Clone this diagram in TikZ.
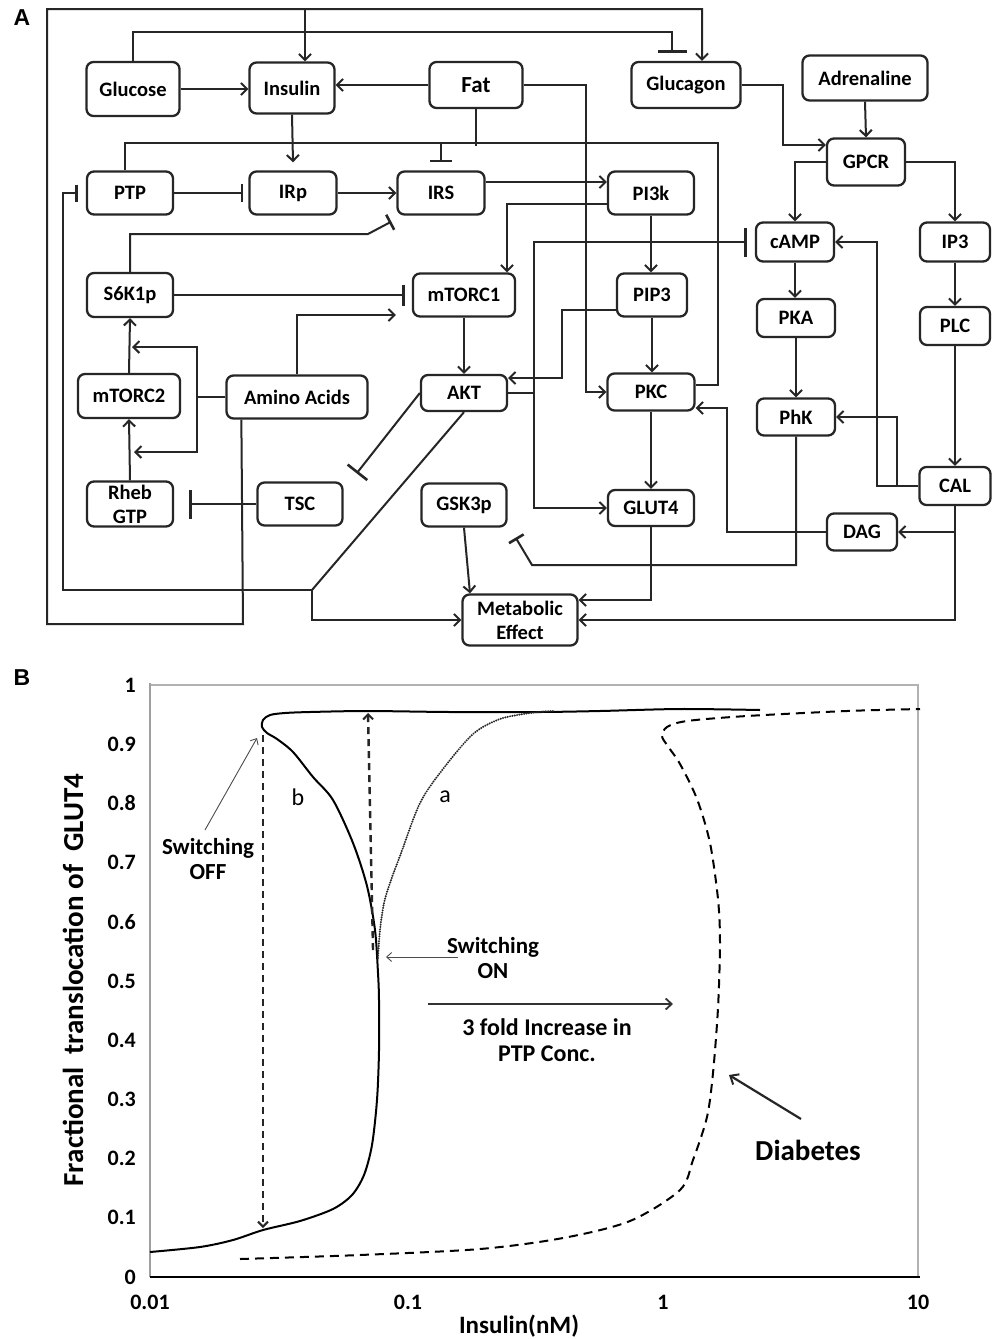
\documentclass[tikz,border=0pt]{standalone}
\usepackage{fontspec}
\setmainfont{Carlito}
\newfontfamily\lsans{Liberation Sans}
\usetikzlibrary{arrows.meta,calc}
\tikzset{
  box/.style={draw=black!85, line width=2.3pt, rounded corners=7pt, inner sep=0pt, align=center, font=\fontsize{20.5}{24}\selectfont\bfseries},
  ln/.style={line width=2pt, draw=black!85},
  arr/.style={ln, -{Straight Barb[length=6pt,width=12pt,line width=2pt]}},
  inh/.style={ln, -{Bar[width=#1,line width=2.6pt]}},
  inh/.default=22pt,
  ticklab/.style={font=\fontsize{22}{24}\selectfont\bfseries, inner sep=1pt},
  annot/.style={font=\fontsize{23}{25}\selectfont\bfseries, align=center, inner sep=0pt},
  thinarr/.style={line width=0.9pt, draw=black!70, -{Straight Barb[length=5pt,width=9pt,line width=0.9pt]}},
  dasharr/.style={line width=2.4pt, draw=black!85, dash pattern=on 7pt off 5pt, -{Straight Barb[length=5pt,width=10pt,line width=2pt]}},
  panel/.style={font=\lsans\fontsize{23}{26}\selectfont\bfseries}
}
\begin{document}
\begin{tikzpicture}[x=1pt,y=-1pt]
\fill[white] (0,0) rectangle (993,1339);
\useasboundingbox (0,0) rectangle (993,1339);

% ---------------- Panel A ----------------
\node[panel] (labA) at (22,18) {A};

\node[box, minimum width=93pt, minimum height=54pt] (glucose) at (133,89) {Glucose};
\node[box, minimum width=85pt, minimum height=51pt] (insulin) at (292,88) {Insulin};
\node[box, minimum width=93pt, minimum height=46pt, font=\fontsize{23}{26}\selectfont\bfseries] (fat) at (476,85) {Fat};
\node[box, minimum width=109pt, minimum height=46pt] (glucagon) at (686,85) {Glucagon};
\node[box, minimum width=125pt, minimum height=45pt] (adrenaline) at (865,78) {Adrenaline};
\node[box, minimum width=78pt, minimum height=47pt] (gpcr) at (866,162) {GPCR};
\node[box, minimum width=86pt, minimum height=43pt] (ptp) at (130,193) {PTP};
\node[box, minimum width=87pt, minimum height=43pt] (irp) at (293,193) {IRp};
\node[box, minimum width=87pt, minimum height=43pt] (irs) at (441,193) {IRS};
\node[box, minimum width=86pt, minimum height=43pt] (pi3k) at (651,193) {PI3k};
\node[box, minimum width=78pt, minimum height=39pt] (camp) at (795,242) {cAMP};
\node[box, minimum width=70pt, minimum height=39pt] (ip3) at (955,242) {IP3};
\node[box, minimum width=86pt, minimum height=44pt] (s6k1p) at (130,295) {S6K1p};
\node[box, minimum width=102pt, minimum height=43pt] (mtorc1) at (464,295) {mTORC1};
\node[box, minimum width=70pt, minimum height=43pt] (pip3) at (652,295) {PIP3};
\node[box, minimum width=78pt, minimum height=38pt] (pka) at (796,318) {PKA};
\node[box, minimum width=70pt, minimum height=38pt] (plc) at (955,326) {PLC};
\node[box, minimum width=102pt, minimum height=44pt] (mtorc2) at (129,396) {mTORC2};
\node[box, minimum width=141pt, minimum height=43pt] (amino) at (297,397) {Amino Acids};
\node[box, minimum width=86pt, minimum height=36pt] (akt) at (464,393) {AKT};
\node[box, minimum width=87pt, minimum height=37pt] (pkc) at (651,392) {PKC};
\node[box, minimum width=78pt, minimum height=37pt] (phk) at (796,417) {PhK};
\node[box, minimum width=71pt, minimum height=38pt] (cal) at (955,486) {CAL};
\node[box, minimum width=86pt, minimum height=45pt] (rheb) at (130,504) {Rheb\\GTP};
\node[box, minimum width=85pt, minimum height=43pt] (tsc) at (300,504) {TSC};
\node[box, minimum width=85pt, minimum height=43pt] (gsk3p) at (464,505) {GSK3p};
\node[box, minimum width=86pt, minimum height=36pt] (glut4) at (651,508) {GLUT4};
\node[box, minimum width=70pt, minimum height=37pt] (dag) at (862,532) {DAG};
\node[box, minimum width=115pt, minimum height=51pt] (metab) at (520,620) {Metabolic\\Effect};

% junction coordinates
\coordinate (topjoin) at (305,9);
\coordinate (bj) at (441,143);
\coordinate (aktj) at (534,393);
\coordinate (aktd) at (312,590);
\coordinate (calj) at (955,532);
\coordinate (calk) at (897,486);
\coordinate (aaj) at (197,397);
\coordinate (aaS) at (132,347);
\coordinate (aaR) at (134,452);

% Amino acids -> Insulin / Glucagon (outer loop)
\draw[arr] ([xshift=16pt]amino.south west) -- (243,624) -- (47,624) -- (47,9) -| ([xshift=16pt]glucagon.north);
\draw[arr] (topjoin) -- ([xshift=13pt]insulin.north);
% Glucose -| Glucagon
\draw[inh=29pt] (glucose.north) -- (133,32) -| ([xshift=-14pt,yshift=8pt]glucagon.north);
% Glucose -> Insulin, Fat -> Insulin
\draw[arr] (glucose.east) -- (glucose.east -| insulin.west);
\draw[arr] (fat.west) -- (fat.west -| insulin.east);
% Insulin -> IRp
\draw[arr] (insulin.south) -- ([yshift=8pt]irp.north);
% PKC line to PTP, and inhibition of IRS
\draw[ln] ([yshift=7pt]pkc.east) -- (718,385) -- (718,143) -| ([xshift=-5pt]ptp.north);
\draw[inh] (bj) -- ([yshift=8pt]irs.north);
\draw[ln] (fat.south) -- (476,146);
% PTP -| IRp, IRp -> IRS, IRS -> PI3k
\draw[inh=18pt] (ptp.east) -- ([xshift=-5pt]irp.west);
\draw[arr] (irp.east) -- (irs.west);
\draw[arr] ([yshift=11pt]irs.east) -- ([yshift=11pt]pi3k.west);
% PI3k -> mTORC1, PI3k -> PIP3
\draw[arr] ([yshift=-11pt]pi3k.west) -| ([xshift=43pt]mtorc1.north);
\draw[arr] (pi3k.south) -- (pi3k.south |- pip3.north);
% AKT -| cAMP, AKT -> GLUT4
\draw[inh=29pt] (akt.east) -- (aktj) |- ([xshift=-8pt]camp.west);
\draw[arr] (aktj) |- (glut4.west);
% PIP3 -> AKT
\draw[arr] ([yshift=-15pt]pip3.west) -- (562,310) |- ([yshift=15pt]akt.east);
% mTORC1 -> AKT
\draw[arr] (mtorc1.south) -- (akt.north);
% Fat -> PKC
\draw[arr] (fat.east) -- (586,85) |- (pkc.west);
% PIP3 -> PKC, PKC -> GLUT4
\draw[arr] (pip3.south) -- (pip3.south |- pkc.north);
\draw[arr] (pkc.south) -- (glut4.north);
% DAG -> PKC
\draw[arr] (dag.west) -- (727,532) |- ([yshift=-16pt]pkc.east);
% CAL -> DAG, CAL -> Metabolic
\draw[arr] (cal.south) -- (955,620) -- (metab.east);
\draw[arr] (calj) -- (dag.east);
% CAL -> cAMP, CAL -> PhK
\draw[arr] (cal.west) -- (877,486) |- (camp.east);
\draw[arr] (calk) |- (phk.east);
% PhK -| GSK3p
\draw[inh=17pt] (phk.south) |- (532,565) -- ([xshift=8pt,yshift=-10pt]gsk3p.south east);
% GLUT4 -> Metabolic, GSK3p -> Metabolic
\draw[arr] (glut4.south) |- ([yshift=20pt]metab.east);
\draw[arr] (gsk3p.south) -- ([xshift=-50pt]metab.north);
% AKT -| TSC
\draw[inh=25pt] (akt.west) -- ([xshift=13pt,yshift=8pt]tsc.north east);
% AKT diagonal -> PTP (inh) and Metabolic
\draw[ln] (akt.south) -- (aktd);
\draw[inh=17pt] (aktd) -- (63,590) -- (63,193) -- ([xshift=-8pt]ptp.west);
\draw[arr] (aktd) -- (312,620) -- (metab.west);
% S6K1p -| mTORC1, S6K1p -| IRS
\draw[inh=21pt] (s6k1p.east) -- ([xshift=-7pt]mtorc1.west);
\draw[inh=17pt] (s6k1p.north) |- (368,234) -- ([xshift=-5pt,yshift=-6pt]irs.south west);
% Amino acids -> mTORC1
\draw[arr] (amino.north) |- ([xshift=-16pt,yshift=-20pt]mtorc1.west);
% mTORC2 -> S6K1p, Rheb -> mTORC2
\draw[arr] (mtorc2.north) -- (s6k1p.south);
\draw[arr] (rheb.north) -- (mtorc2.south);
% Amino acids -> side arrows
\draw[arr] (amino.west) -- (aaj) |- (aaS);
\draw[arr] (aaj) |- (aaR);
% TSC -| Rheb
\draw[inh=29pt] (tsc.west) -- ([xshift=15pt]rheb.east);
% Glucagon -> GPCR, Adrenaline -> GPCR
\draw[arr] (glucagon.east) -- (783,85) |- ([yshift=17pt]gpcr.west);
\draw[arr] (adrenaline.south) -- (gpcr.north);
% GPCR -> cAMP, GPCR -> IP3
\draw[arr] (gpcr.west) -| (camp.north);
\draw[arr] (gpcr.east) -| (ip3.north);
% chains
\draw[arr] (ip3.south) -- (plc.north);
\draw[arr] (plc.south) -- (cal.north);
\draw[arr] (camp.south) -- (camp.south |- pka.north);
\draw[arr] (pka.south) -- (pka.south |- phk.north);

% ---------------- Panel B ----------------
\node[panel] (labB) at (22,678) {B};

\draw[gray!60, line width=1.2pt] (150,685) -- (918,685) -- (918,1277);
\draw[gray!75, line width=2.6pt] (150,683) -- (150,1277);
\draw[black, line width=2.6pt] (150,1277) -- (920,1277);

\foreach \v/\t in {0/0,1/0.1,2/0.2,3/0.3,4/0.4,5/0.5,6/0.6,7/0.7,8/0.8,9/0.9,10/1}
  \node[ticklab, anchor=east] at (137,1277-59.2*\v) {\t};
\foreach \xx/\t in {150/0.01,408/0.1,663/1,918/10}
  \node[ticklab] at (\xx,1302) {\t};

\node[rotate=90, font=\fontsize{29}{32}\selectfont\bfseries] (ylab) at (73,980) {Fractional~ translocation of~ GLUT4};
\node[font=\fontsize{25}{28}\selectfont\bfseries] (xlab) at (519,1326) {Insulin(nM)};

% curve b (solid)
\draw[line width=2pt, black] plot[smooth, tension=0.5] coordinates {
 (150,1252) (200,1247) (233,1240) (263,1230) (300,1221) (333,1209) (352,1195)
 (364,1175) (372,1145) (377,1100) (379,1051) (379,1000) (378,973) (375,930)
 (367,886) (353,843) (333,800) (313,777) (293,752) (277,739) (267,733)
 (262,727) (263,720) (270,715) (285,713) (310,712) (367,711) (450,712)
 (540,712) (600,711) (680,709) (760,710)};
% curve a (dotted)
\draw[line width=2.2pt, line cap=round, dash pattern=on 0pt off 2.4pt, black!85] plot[smooth] coordinates {
 (378,958) (380,930) (384,903) (391,880) (400,856) (420,803) (443,769)
 (473,734) (500,719) (530,713) (553,711)};
% diabetes curve (dashed)
\draw[line width=2pt, dash pattern=on 9pt off 6pt, black] plot[smooth, tension=0.5] coordinates {
 (240,1259) (360,1255) (480,1249) (563,1238) (630,1221) (680,1190) (693,1160)
 (707,1117) (713,1073) (718,1008) (720,943) (718,899) (710,843) (697,799)
 (680,764) (667,745) (662,736) (667,727) (687,721) (747,716) (847,711) (920,709)};

% switching arrows
\coordinate (offtop) at (263,735);
\coordinate (offbot) at (263,1228);
\coordinate (ontop) at (368,713);
\coordinate (onbot) at (373,950);
\draw[dasharr] (offtop) -- (offbot);
\draw[dasharr] (onbot) -- (ontop);

\node[annot] (swoff) at (208,859) {Switching\\OFF};
\draw[thinarr] (205,830) -- (257,738);
\node[annot] (swon) at (493,958) {Switching\\ON};
\draw[thinarr] (458,957) -- (386,957);

\node[annot, font=\fontsize{24}{26}\selectfont\bfseries] (ptpinc) at (547,1040) {3 fold Increase in\\PTP Conc.};
\draw[line width=2pt, black!80, -{Straight Barb[length=6pt,width=11pt,line width=1.8pt]}] (428,1004) -- (673,1004);

\node[font=\fontsize{24}{26}\selectfont] (la) at (445,797) {a};
\node[font=\fontsize{24}{26}\selectfont] (lb) at (298,797) {b};

\node[font=\fontsize{29}{32}\selectfont\bfseries] (diab) at (808,1150) {Diabetes};
\draw[line width=2.2pt, black!85, -{Straight Barb[length=7pt,width=12pt,line width=2pt]}] (801,1119) -- (729,1075);

\end{tikzpicture}
\end{document}
